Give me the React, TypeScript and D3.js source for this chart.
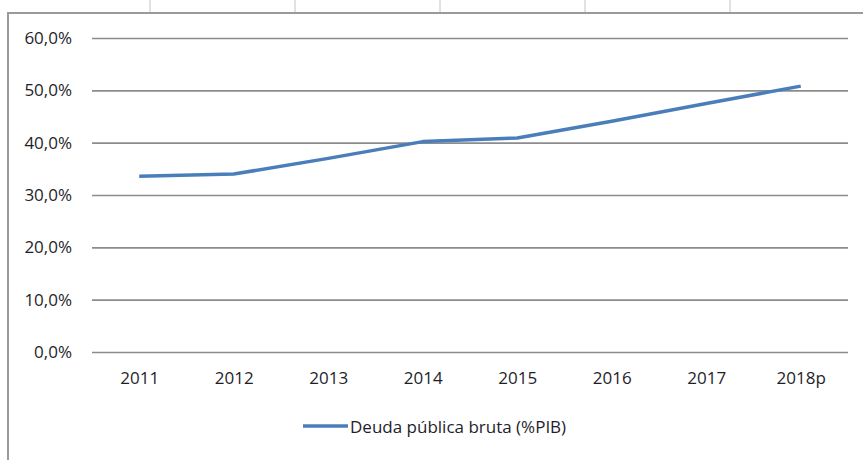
import React from "react";
import * as d3 from "d3";

const width = 863;
const height = 460;
const margin = { top: 38, right: 15, bottom: 108, left: 92 };

const years = ["2011", "2012", "2013", "2014", "2015", "2016", "2017", "2018p"];
const deuda = [33.6, 34.0, 37.0, 40.2, 40.9, 44.1, 47.5, 50.8];
const yTicks = [0, 10, 20, 30, 40, 50, 60];
const seriesName = "Deuda pública bruta (%PIB)";
const tableCols = [150, 295, 440, 585, 730];

const font = "'Open Sans', sans-serif";
const fontSize = 17;
const fontWeight = 500;
const lineColor = "#4a7ebb";
const gridColor = "#8c8c8c";

export default function App() {
  const ref = React.useRef<SVGSVGElement>(null);

  React.useEffect(() => {
    const svg = d3.select(ref.current);
    svg.selectAll("*").remove();

    const x = d3.scalePoint().domain(years).range([margin.left, width - margin.right]).padding(0.5);
    const y = d3.scaleLinear().domain([0, 60]).range([height - margin.bottom, margin.top]);

    // bits of the table above and the chart frame
    svg.selectAll(".col").data(tableCols).join("line")
      .attr("x1", d => d).attr("x2", d => d).attr("y1", 0).attr("y2", 12)
      .attr("stroke", "#c4c4c4").attr("stroke-width", 1);
    svg.append("path")
      .attr("d", `M8,${height} V13 H${width}`)
      .attr("fill", "none").attr("stroke", "#9a9a9a").attr("stroke-width", 2);

    // y axis: gridlines + labels
    const yAxis = d3.axisLeft(y).tickValues(yTicks)
      .tickSize(-(width - margin.right - margin.left))
      .tickPadding(20)
      .tickFormat(d => `${d3.format(".1f")(d as number).replace(".", ",")}%`);
    const gy = svg.append("g").attr("transform", `translate(${margin.left},0)`).call(yAxis);
    gy.select(".domain").remove();
    gy.selectAll(".tick line").attr("stroke", gridColor).attr("stroke-width", 1.6);
    gy.selectAll(".tick text").attr("fill", "#1e1e2a").attr("font-family", font)
      .attr("font-size", fontSize).attr("font-weight", fontWeight);

    // x axis labels
    const xAxis = d3.axisBottom(x).tickSize(0).tickPadding(20);
    const gx = svg.append("g").attr("transform", `translate(0,${y(0)})`).call(xAxis);
    gx.select(".domain").remove();
    gx.selectAll(".tick text").attr("fill", "#1e1e2a").attr("font-family", font)
      .attr("font-size", fontSize).attr("font-weight", fontWeight);

    // series line
    const line = d3.line<number>().x((_, i) => x(years[i]) as number).y(d => y(d));
    svg.append("path").datum(deuda).attr("d", line)
      .attr("fill", "none").attr("stroke", lineColor).attr("stroke-width", 3.5)
      .attr("stroke-linejoin", "round");

    // legend
    const lg = svg.append("g").attr("transform", "translate(303,428)");
    lg.append("line").attr("x1", 0).attr("x2", 45).attr("y1", -2).attr("y2", -2)
      .attr("stroke", lineColor).attr("stroke-width", 3.5);
    lg.append("text").attr("x", 47).attr("y", 0).attr("dy", "0.32em")
      .attr("fill", "#1e1e2a").attr("font-family", font)
      .attr("font-size", fontSize).attr("font-weight", fontWeight)
      .text(seriesName);
  }, []);

  return (
    <svg ref={ref} width={width} height={height}
      style={{ position: "absolute", left: 0, top: 0, background: "#fff" }} />
  );
}
